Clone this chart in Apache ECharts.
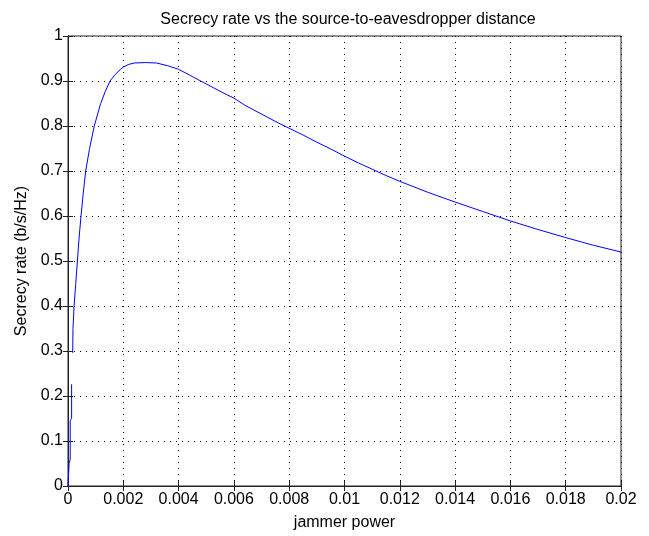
<!DOCTYPE html>
<html>
<head>
<meta charset="utf-8">
<script src="https://cdn.jsdelivr.net/npm/echarts@6/dist/echarts.min.js"></script>
<style>
html,body{margin:0;padding:0;background:#fff;}
#c{width:649px;height:536px;}
</style>
</head>
<body>
<div id="c"></div>
<script>
var titleText = 'Secrecy rate vs the source-to-eavesdropper distance';
var xLabel = 'jammer power';
var yLabel = 'Secrecy rate (b/s/Hz)';

var jammerPower = [0, 0.00004, 0.00004, 0.00008, 0.00008, 0.00013, 0.00013, 0.00015, 0.00017, 0.00018, 0.00022, 0.00028, 0.00034, 0.00040, 0.00047, 0.00055, 0.00064, 0.00078, 0.00095, 0.00118, 0.00135, 0.00152, 0.0017, 0.0019, 0.0020, 0.0022, 0.0024, 0.0028, 0.0032, 0.0036, 0.0040, 0.0044, 0.0048, 0.0052, 0.0056, 0.0060, 0.0064, 0.0068, 0.0072, 0.0076, 0.0080, 0.0085, 0.0090, 0.0095, 0.0100, 0.0105, 0.0110, 0.0115, 0.0120, 0.0130, 0.0140, 0.0150, 0.0160, 0.0170, 0.0180, 0.0190, 0.0200];
var secrecyRate = [0, 0, 0.05, 0.06, 0.145, 0.15, 0.226, null, 0.296, 0.35, 0.40, 0.45, 0.50, 0.55, 0.60, 0.65, 0.70, 0.75, 0.80, 0.85, 0.877, 0.90, 0.914, 0.926, 0.931, 0.937, 0.940, 0.941, 0.940, 0.934, 0.926, 0.913, 0.90, 0.887, 0.874, 0.862, 0.846, 0.833, 0.820, 0.807, 0.795, 0.780, 0.764, 0.749, 0.733, 0.718, 0.704, 0.690, 0.677, 0.653, 0.631, 0.610, 0.589, 0.570, 0.552, 0.535, 0.520];

var xMin = 0, xMax = 0.02, xStep = 0.002;
var yMin = 0, yMax = 1, yStep = 0.1;

var seriesData = jammerPower.map(function (x, i) {
  return [x, secrecyRate[i] === null ? '-' : secrecyRate[i]];
});

var FONT = 'Liberation Sans';
var gridDash = [1, 5];

var chart = echarts.init(document.getElementById('c'), null, {renderer: 'canvas'});
chart.setOption({
  backgroundColor: '#ffffff',
  animation: false,
  title: {
    text: titleText,
    left: 343, textAlign: 'center', top: 7,
    textStyle: {fontFamily: FONT, fontSize: 16, fontWeight: 'normal', color: '#000'}
  },
  grid: {
    left: 68, right: 28, top: 36, bottom: 49,
    show: true, borderColor: '#222', borderWidth: 1, backgroundColor: '#fff'
  },
  xAxis: [{
    type: 'value', min: xMin, max: xMax, interval: xStep, position: 'bottom',
    name: xLabel, nameLocation: 'middle', nameGap: 29,
    nameTextStyle: {fontFamily: FONT, fontSize: 16, color: '#000'},
    axisLine: {show: true, lineStyle: {color: '#222', width: 1}},
    axisTick: {show: true, inside: true, length: 5, lineStyle: {color: '#222'}},
    axisLabel: {fontFamily: FONT, fontSize: 16, color: '#000', margin: 6,
      formatter: function (v) { return String(+v.toFixed(4)); }},
    splitLine: {show: true, lineStyle: {color: '#000', width: 1, type: gridDash}}
  }, {
    type: 'value', min: xMin, max: xMax, interval: xStep, position: 'top',
    axisLine: {show: true, lineStyle: {color: '#222', width: 1}},
    axisTick: {show: true, inside: true, length: 5, lineStyle: {color: '#222'}},
    axisLabel: {show: false}, splitLine: {show: false}
  }],
  yAxis: [{
    type: 'value', min: yMin, max: yMax, interval: yStep, position: 'left',
    name: yLabel, nameLocation: 'middle', nameGap: 38, nameRotate: 90,
    nameTextStyle: {fontFamily: FONT, fontSize: 16, color: '#000'},
    axisLine: {show: true, lineStyle: {color: '#222', width: 1}},
    axisTick: {show: true, inside: true, length: 5, lineStyle: {color: '#222'}},
    axisLabel: {fontFamily: FONT, fontSize: 16, color: '#000', margin: 5,
      formatter: function (v) { return String(+v.toFixed(2)); }},
    splitLine: {show: true, lineStyle: {color: '#000', width: 1, type: gridDash}}
  }, {
    type: 'value', min: yMin, max: yMax, interval: yStep, position: 'right',
    axisLine: {show: true, lineStyle: {color: '#222', width: 1}},
    axisTick: {show: true, inside: true, length: 5, lineStyle: {color: '#222'}},
    axisLabel: {show: false}, splitLine: {show: false}
  }],
  series: [{
    type: 'line',
    xAxisIndex: 0, yAxisIndex: 0,
    data: seriesData,
    showSymbol: false, symbol: 'none',
    connectNulls: false,
    smooth: false,
    lineStyle: {color: '#0000ff', width: 1},
    itemStyle: {color: '#0000ff'}
  }]
});
</script>
</body>
</html>
